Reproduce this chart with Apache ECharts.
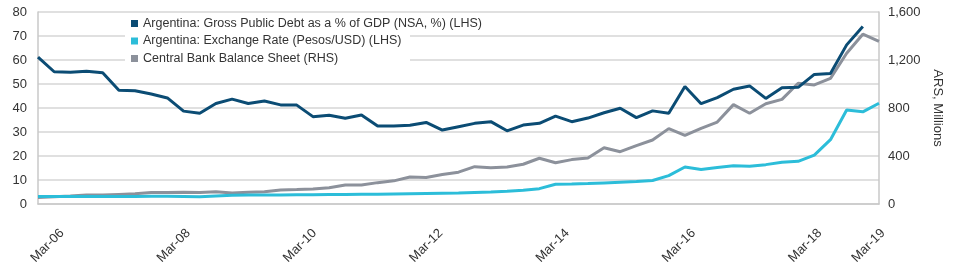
<!DOCTYPE html>
<html>
<head>
<meta charset="utf-8">
<script src="https://cdn.jsdelivr.net/npm/echarts@6/dist/echarts.min.js"></script>
<style>
html,body{margin:0;padding:0;background:#fff;}
#chart{width:960px;height:270px;}
</style>
</head>
<body>
<div id="chart"></div>
<script>
var categories = [
  "Mar-06","Jun-06","Sep-06","Dec-06","Mar-07","Jun-07","Sep-07","Dec-07",
  "Mar-08","Jun-08","Sep-08","Dec-08","Mar-09","Jun-09","Sep-09","Dec-09",
  "Mar-10","Jun-10","Sep-10","Dec-10","Mar-11","Jun-11","Sep-11","Dec-11",
  "Mar-12","Jun-12","Sep-12","Dec-12","Mar-13","Jun-13","Sep-13","Dec-13",
  "Mar-14","Jun-14","Sep-14","Dec-14","Mar-15","Jun-15","Sep-15","Dec-15",
  "Mar-16","Jun-16","Sep-16","Dec-16","Mar-17","Jun-17","Sep-17","Dec-17",
  "Mar-18","Jun-18","Sep-18","Dec-18","Mar-19"
];
var shownLabels = ["Mar-06","Mar-08","Mar-10","Mar-12","Mar-14","Mar-16","Mar-18","Mar-19"];

var debtPctGdp = [
  61.2, 55.1, 54.9, 55.3, 54.7, 47.4, 47.2, 45.8,
  44.2, 38.7, 37.8, 41.9, 43.7, 41.9, 42.9, 41.3,
  41.2, 36.4, 37.0, 35.7, 37.1, 32.5, 32.5, 32.8,
  34.0, 30.8, 32.2, 33.6, 34.3, 30.5, 32.9, 33.6,
  36.6, 34.3, 35.8, 38.0, 39.9, 36.0, 38.8, 37.8,
  49.0, 41.8, 44.3, 47.8, 49.2, 44.0, 48.4, 48.6,
  54.0, 54.4, 66.3, 74.0, null
];
var exchangeRate = [
  3.1, 3.1, 3.1, 3.1, 3.1, 3.1, 3.1, 3.2,
  3.2, 3.1, 3.0, 3.3, 3.6, 3.8, 3.8, 3.8,
  3.9, 3.9, 4.0, 4.0, 4.1, 4.1, 4.2, 4.3,
  4.4, 4.5, 4.6, 4.8, 5.0, 5.3, 5.7, 6.4,
  8.2, 8.3, 8.5, 8.8, 9.1, 9.4, 9.8, 11.8,
  15.4, 14.4, 15.2, 15.9, 15.7, 16.4, 17.4, 17.8,
  20.4, 26.8, 39.2, 38.4, 42.0
];
var centralBankBS = [
  55, 60, 66, 75, 75, 80, 85, 95,
  95, 98, 96, 103, 92, 98, 102, 117,
  120, 125, 136, 158, 158, 178, 193, 225,
  221, 245, 265, 311, 303, 308, 331, 381,
  344, 370, 384, 469, 436, 487, 533, 628,
  572, 631, 683, 828, 756, 835, 872, 1006,
  992, 1047, 1256, 1415, 1355
];

var leftTicks = {min: 0, max: 80, interval: 10};
var rightTicks = {min: 0, max: 1600, interval: 400};

var FONT = "Liberation Sans, Arial, Helvetica, sans-serif";
var TXT = "#333333";
var chart = echarts.init(document.getElementById('chart'), null, {renderer: 'canvas'});
chart.setOption({
  animation: false,
  backgroundColor: '#ffffff',
  textStyle: {fontFamily: FONT},
  grid: [
    {left: 38, right: 81, top: 12, bottom: 66, containLabel: false},
    {left: 62, right: 77, top: 12, bottom: 66, containLabel: false}
  ],
  graphic: [{
    type: 'rect', left: 125, top: 16, z: 1,
    shape: {width: 285, height: 52},
    style: {fill: '#ffffff'}, silent: true
  }],
  legend: {
    orient: 'vertical', left: 126, top: 12, z: 5,
    itemWidth: 7, itemHeight: 7, itemGap: 4.5, icon: 'rect',
    textStyle: {fontFamily: FONT, fontSize: 12.5, color: TXT},
    data: [
      {name: 'Argentina: Gross Public Debt as a % of GDP (NSA, %) (LHS)'},
      {name: 'Argentina: Exchange Rate (Pesos/USD) (LHS)'},
      {name: 'Central Bank Balance Sheet (RHS)'}
    ]
  },
  xAxis: [{
    type: 'category', data: categories, boundaryGap: false, gridIndex: 0,
    axisLine: {show: true, lineStyle: {color: '#c8c8c8', width: 1.5}},
    axisTick: {show: false},
    splitLine: {show: false},
    axisLabel: {show: false}
  }, {
    type: 'category', data: categories, boundaryGap: false, gridIndex: 1,
    axisLine: {show: false},
    axisTick: {show: false},
    splitLine: {show: false},
    axisLabel: {
      rotate: 45, margin: 27, fontSize: 13, color: TXT, fontFamily: FONT,
      interval: function (idx, val) { return shownLabels.indexOf(val) >= 0; }
    }
  }],
  yAxis: [{
    type: 'value', min: leftTicks.min, max: leftTicks.max, interval: leftTicks.interval,
    position: 'left', gridIndex: 0,
    axisLine: {show: true, lineStyle: {color: '#c8c8c8', width: 1.5}},
    axisTick: {show: false},
    splitLine: {show: true, lineStyle: {color: '#d6d6d6', width: 1.5}},
    axisLabel: {fontSize: 13, color: TXT, margin: 11, fontFamily: FONT}
  }, {
    type: 'value', min: rightTicks.min, max: rightTicks.max, interval: rightTicks.interval,
    position: 'right', gridIndex: 0,
    name: 'ARS, Millions', nameLocation: 'middle', nameRotate: -90, nameGap: 46,
    nameTextStyle: {fontSize: 13, color: TXT, fontFamily: FONT},
    axisLine: {show: true, lineStyle: {color: '#c8c8c8', width: 1.5}},
    axisTick: {show: false},
    splitLine: {show: false},
    axisLabel: {fontSize: 13, color: TXT, margin: 9, fontFamily: FONT,
      formatter: function (v) { return v.toLocaleString('en-US'); }}
  }, {
    type: 'value', gridIndex: 1, min: 0, max: 1, show: false
  }],
  series: [{
    name: 'Argentina: Gross Public Debt as a % of GDP (NSA, %) (LHS)',
    type: 'line', xAxisIndex: 0, yAxisIndex: 0, data: debtPctGdp, symbol: 'none', z: 4,
    lineStyle: {color: '#0b4c74', width: 3}, itemStyle: {color: '#0b4c74'}
  }, {
    name: 'Argentina: Exchange Rate (Pesos/USD) (LHS)',
    type: 'line', xAxisIndex: 0, yAxisIndex: 0, data: exchangeRate, symbol: 'none', z: 3,
    lineStyle: {color: '#2cbdd9', width: 3}, itemStyle: {color: '#2cbdd9'}
  }, {
    name: 'Central Bank Balance Sheet (RHS)',
    type: 'line', xAxisIndex: 0, yAxisIndex: 1, data: centralBankBS, symbol: 'none', z: 2,
    lineStyle: {color: '#8c919b', width: 3}, itemStyle: {color: '#8c919b'}
  }]
});
</script>
</body>
</html>
